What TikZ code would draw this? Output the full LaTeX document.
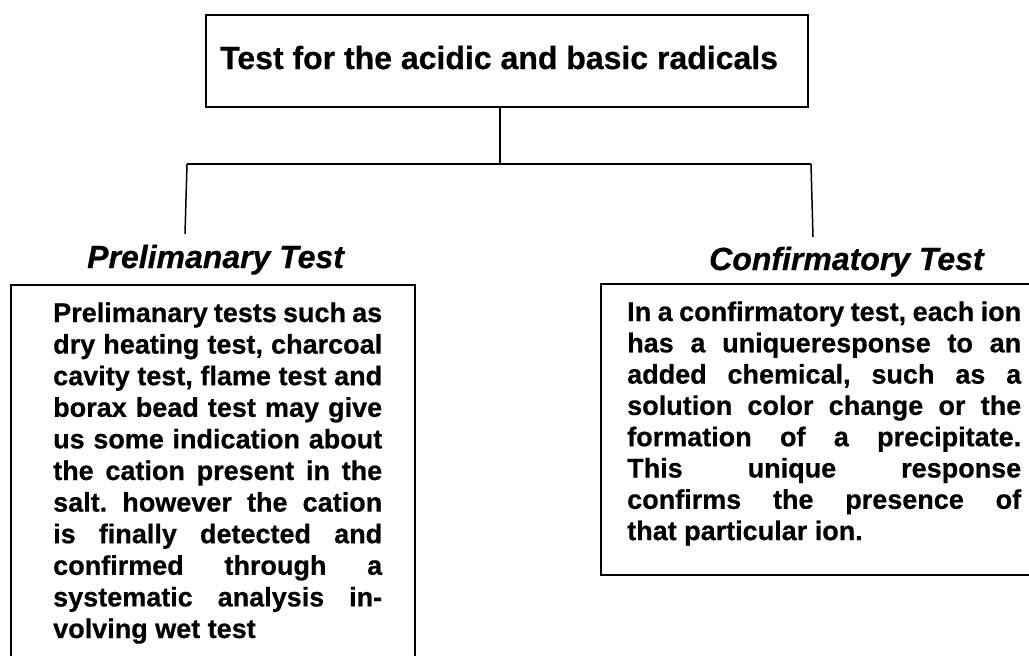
\documentclass[tikz,border=0pt]{standalone}
\usepackage{fontspec}
\setmainfont{Liberation Sans}[BoldFeatures={FakeBold=0.6},BoldItalicFeatures={FakeBold=0.6}]
\frenchspacing
\begin{document}
\begin{tikzpicture}[x=1pt,y=-1pt,
  boxline/.style={draw=black,line width=1.8pt,rectangle,inner sep=0pt,anchor=north west},
  conn/.style={draw=black,line width=1.5pt},
  heading/.style={anchor=base west,inner sep=0pt,font=\fontsize{32}{36}\selectfont\bfseries\itshape},
  bodytext/.style={anchor=base west,inner sep=0pt,font=\fontsize{27}{31.45}\selectfont\bfseries}]
\useasboundingbox (0,0) rectangle (1029,656);
\newcommand{\jline}[1]{\makebox[\linewidth][s]{#1}\par}
\newcommand{\lline}[1]{\makebox[\linewidth][l]{#1}\par}
% title
\node[boxline,minimum width=602pt,minimum height=92pt] (tbox) at (205,14) {};
\node[anchor=base west,inner sep=0pt,font=\fontsize{32}{36}\selectfont\bfseries] (title) at (220,69) {Test for the acidic and basic radicals};
% connectors
\coordinate (j) at (500,164);
\coordinate (jl) at (187,164);
\coordinate (jr) at (811,164);
\coordinate (le) at (185,234);
\coordinate (re) at (813,237);
\draw[conn] (tbox.south -| j) -- (j);
\draw[conn] (jl) -- (jr);
\draw[conn] (jl) -- (le);
\draw[conn] (jr) -- (re);
% headings
\node[heading] (lhead) at (87,268) {Prelimanary Test};
\node[heading] (rhead) at (709,270) {Confirmatory Test};
% boxes
\node[boxline,minimum width=404pt,minimum height=420pt] (lbox) at (10,284) {};
\node[boxline,minimum width=440pt,minimum height=291pt] (rbox) at (600,283) {};
% texts
\node[bodytext] (ltext) at (53,322) {\parbox[t]{329pt}{\fontsize{27}{31.6}\selectfont
\jline{Prelimanary tests such as}
\jline{dry heating test, charcoal}
\jline{cavity test, flame test and}
\jline{borax bead test may give}
\jline{us some indication about}
\jline{the cation present in the}
\jline{salt. however the cation}
\jline{is finally detected and}
\jline{confirmed through a}
\jline{systematic analysis in-}
\lline{volving wet test}}};
\node[bodytext] (rtext) at (627,321) {\parbox[t]{394pt}{\fontsize{27}{31.3}\selectfont
\jline{In a confirmatory test, each ion}
\jline{has a uniqueresponse to an}
\jline{added chemical, such as a}
\jline{solution color change or the}
\jline{formation of a precipitate.}
\jline{This unique response}
\jline{confirms the presence of}
\lline{that particular ion.}}};
\end{tikzpicture}
\end{document}
